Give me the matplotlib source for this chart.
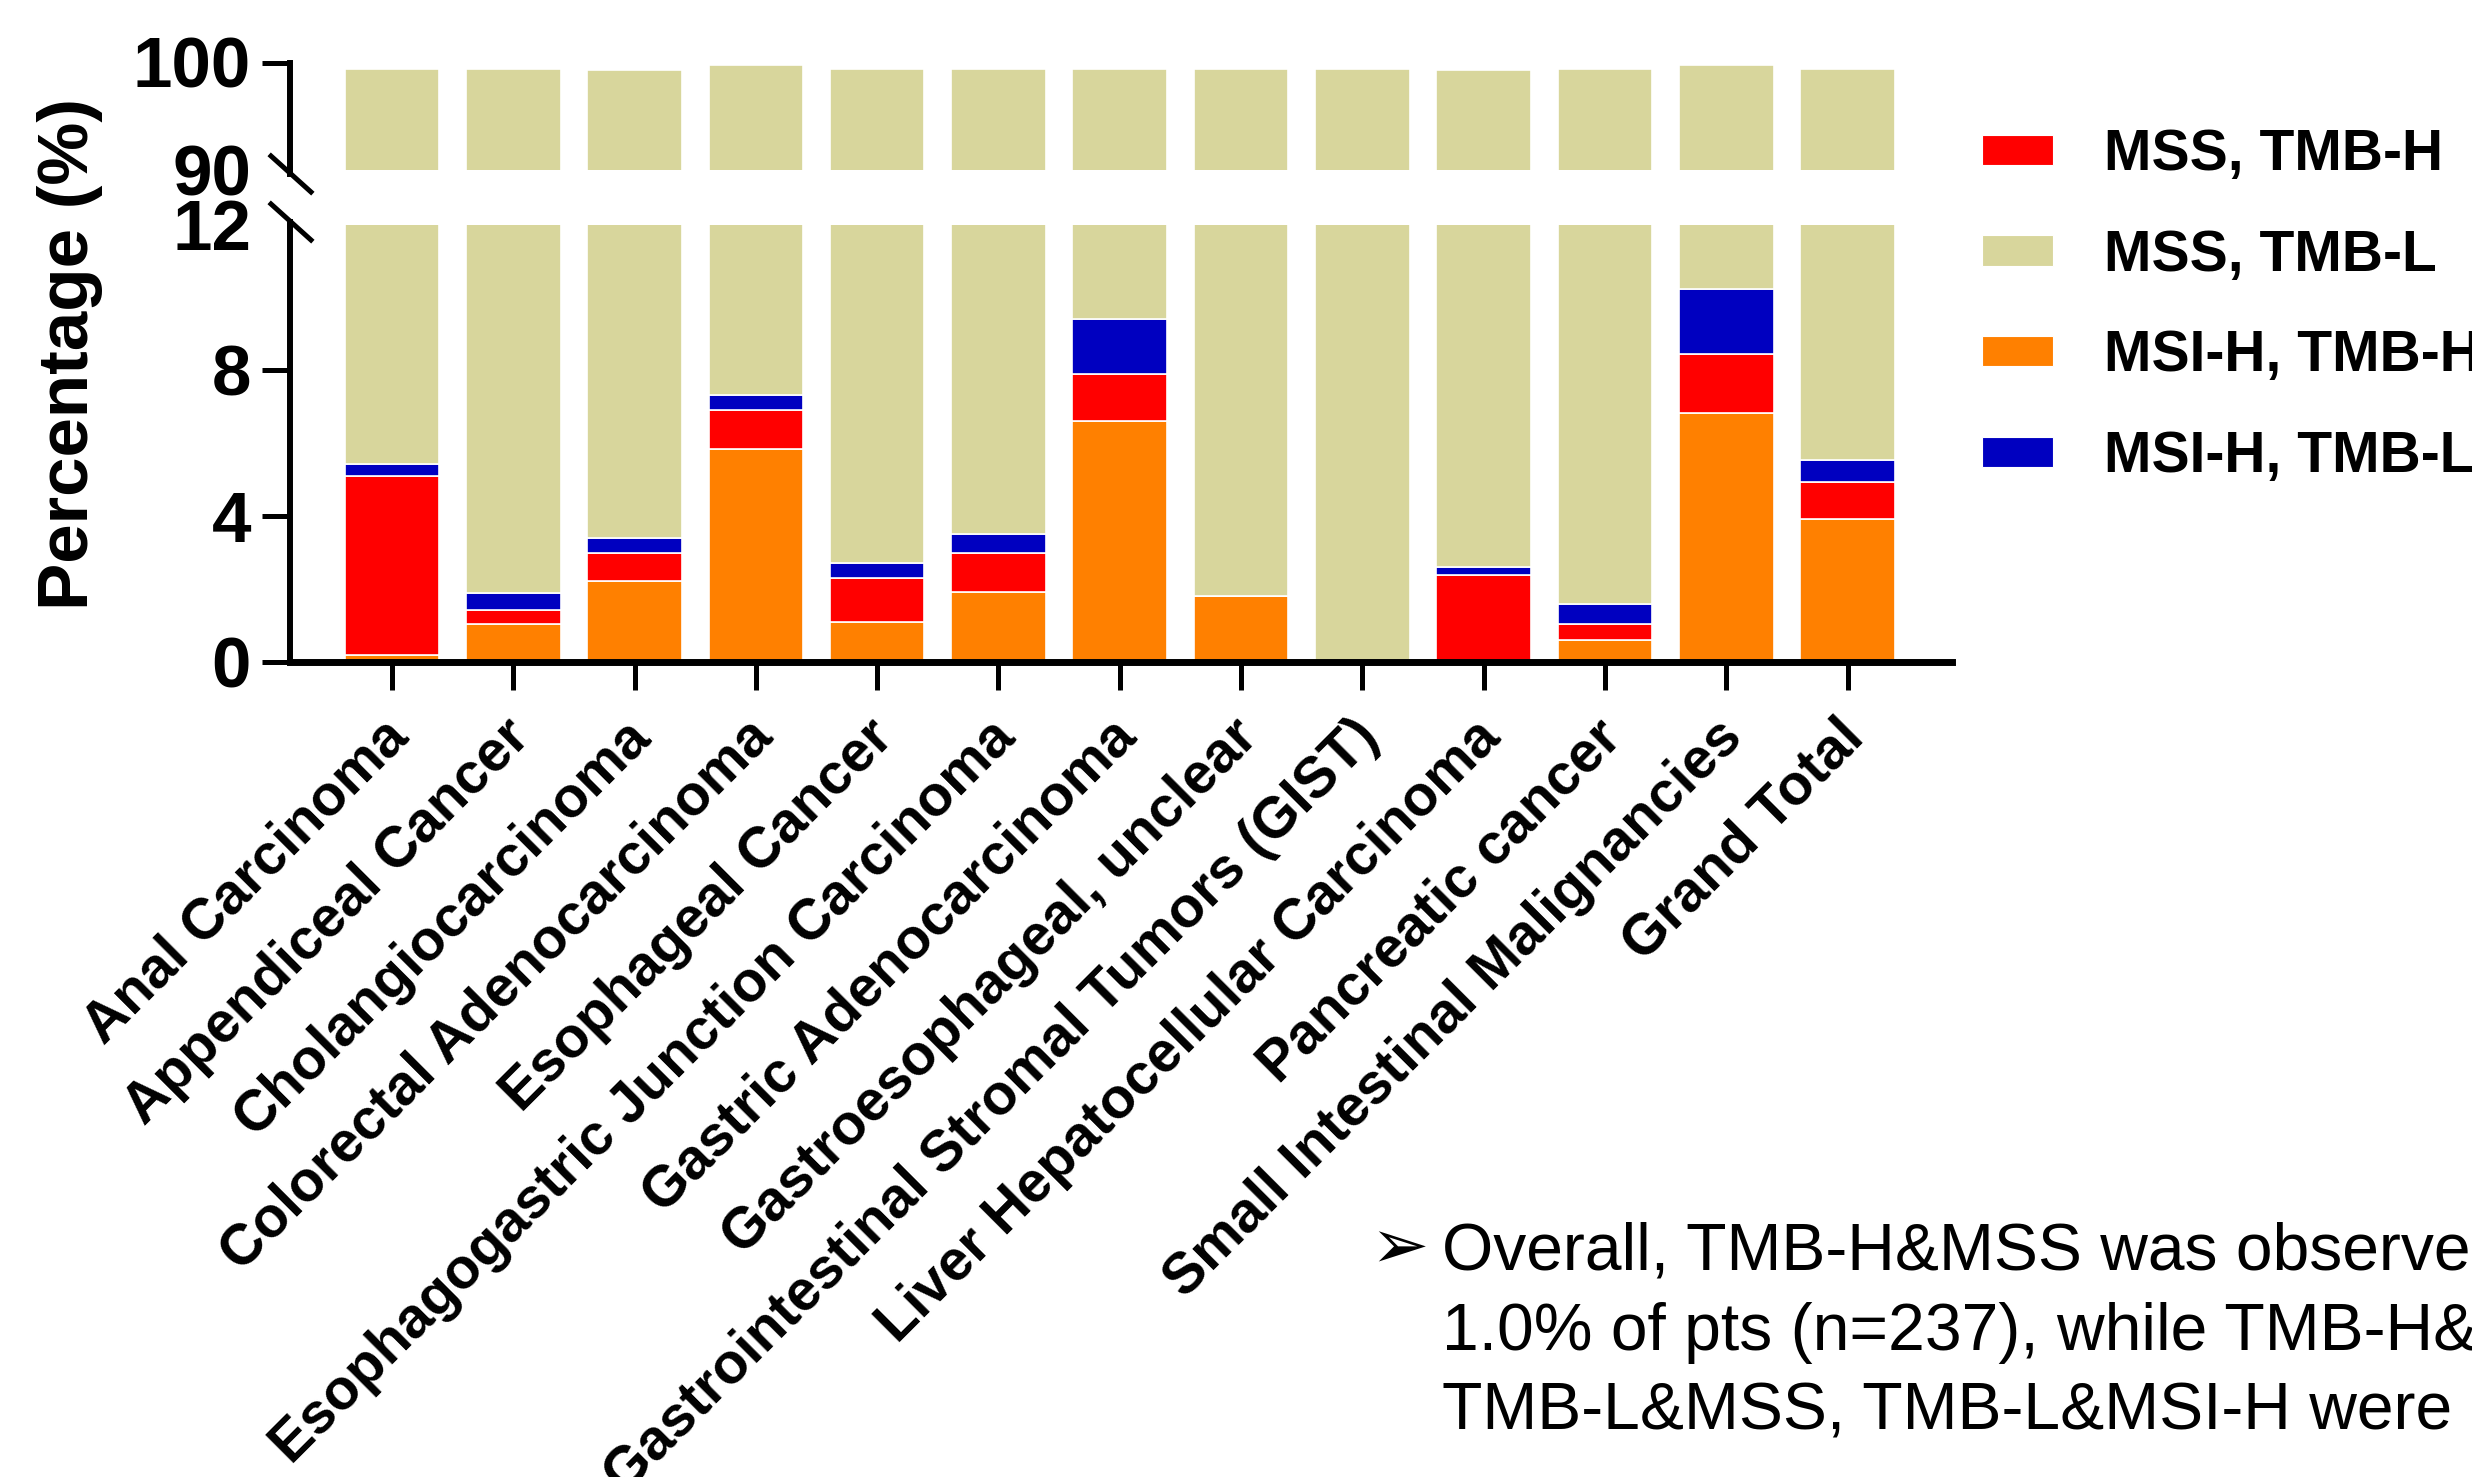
import matplotlib
matplotlib.use("Agg")
import matplotlib.pyplot as plt
import matplotlib.transforms as mtransforms
from matplotlib.patches import Patch
from matplotlib.lines import Line2D

plt.rcParams['font.family'] = ['Liberation Sans', 'DejaVu Sans']

# data (percent of patients per tumour type)
categories = ["Anal Carcinoma", "Appendiceal Cancer", "Cholangiocarcinoma",
              "Colorectal Adenocarcinoma", "Esophageal Cancer",
              "Esophagogastric Junction Carcinoma", "Gastric Adenocarcinoma",
              "Gastroesophageal, unclear", "Gastrointestinal Stromal Tumors (GIST)",
              "Liver Hepatocellular Carcinoma", "Pancreatic cancer",
              "Small Intestinal Malignancies", "Grand Total"]
msi_h_tmb_h = [0.2, 1.03, 2.23, 5.83, 1.1, 1.91, 6.61, 1.8, 0.0, 0.0, 0.61, 6.83, 3.91]
mss_tmb_h = [4.9, 0.4, 0.75, 1.09, 1.21, 1.07, 1.3, 0.0, 0.0, 2.4, 0.42, 1.61, 1.02]
msi_h_tmb_l = [0.32, 0.47, 0.43, 0.41, 0.41, 0.54, 1.51, 0.0, 0.0, 0.21, 0.56, 1.79, 0.6]
mss_tmb_l = [93.98, 97.5, 95.89, 92.47, 96.68, 95.88, 89.98, 97.6, 99.4, 96.69, 97.81, 89.57, 93.87]

series = [("MSI-H, TMB-H", msi_h_tmb_h, "#FF8000"),
          ("MSS, TMB-H", mss_tmb_h, "#FF0000"),
          ("MSI-H, TMB-L", msi_h_tmb_l, "#0000C0"),
          ("MSS, TMB-L", mss_tmb_l, "#D8D69C")]

W, H = 2472, 1477
fig = plt.figure(figsize=(W / 100, H / 100), dpi=100)


def px_axes(left, top, right, bottom):
    return fig.add_axes([left / W, 1 - bottom / H, (right - left) / W, (bottom - top) / H])


ax_lo = px_axes(290, 224.5, 1952, 662)
ax_hi = px_axes(290, 62.5, 1952, 169.6)

x = list(range(len(categories)))
for ax in (ax_lo, ax_hi):
    bottom = [0.0] * len(categories)
    for name, vals, col in series:
        ax.bar(x, vals, width=0.78, bottom=bottom, color=col,
               edgecolor="white", linewidth=1.2)
        bottom = [b + v for b, v in zip(bottom, vals)]
    ax.set_xlim(-0.84, 12.86)
    for s in ("top", "right"):
        ax.spines[s].set_visible(False)
    ax.spines["left"].set_linewidth(4.3)
    ax.tick_params(axis="y", length=20, width=3.6, pad=8, labelsize=51)

ax_lo.set_ylim(0, 12)
ax_lo.set_yticks([0, 4, 8, 12])
ax_lo.set_yticklabels(["0", "4", "8", "12"], fontweight="bold", fontsize=51)
ax_lo.yaxis.get_major_ticks()[-1].tick1line.set_visible(False)
ax_lo.spines["bottom"].set_linewidth(5)
ax_lo.set_xticks(x)
ax_lo.set_xticklabels(categories, rotation=45, ha="right", va="center",
                      rotation_mode="anchor", fontsize=41, fontweight="bold")
ax_lo.tick_params(axis="x", length=20, width=3.6, pad=28)
off = mtransforms.ScaledTranslation(0.08, 0, fig.dpi_scale_trans)
for lbl in ax_lo.get_xticklabels():
    lbl.set_transform(lbl.get_transform() + off)

ax_hi.set_ylim(90, 100)
ax_hi.set_yticks([90, 100])
ax_hi.set_yticklabels(["90", "100"], fontweight="bold", fontsize=51)
ax_hi.yaxis.get_major_ticks()[0].tick1line.set_visible(False)
ax_hi.spines["bottom"].set_visible(False)
ax_hi.set_xticks([])

# axis break marks
for cy in (174, 222):
    fig.add_artist(Line2D([271 / W, 311 / W], [1 - (cy - 18) / H, 1 - (cy + 18) / H],
                          color="black", linewidth=3.6))
fig.add_artist(Line2D([290 / W, 290 / W], [1 - 169 / H, 1 - 174 / H],
                      color="black", linewidth=4.3))
fig.add_artist(Line2D([290 / W, 290 / W], [1 - 222 / H, 1 - 226 / H],
                      color="black", linewidth=4.3))

fig.text(70 / W, 1 - 354 / H, "Percentage (%)", rotation=90, ha="center", va="center",
         fontsize=51, fontweight="bold")

# legend
order = ["MSS, TMB-H", "MSS, TMB-L", "MSI-H, TMB-H", "MSI-H, TMB-L"]
colors = {name: col for name, _, col in series}
handles = [Patch(facecolor=colors[n], edgecolor="white", linewidth=0.8, label=n) for n in order]
fig.legend(handles=handles, loc="upper left", bbox_to_anchor=(1982 / W, 1 - 128 / H),
           frameon=False, borderpad=0, borderaxespad=0,
           prop={"weight": "bold", "size": 41}, handlelength=1.25, handleheight=0.44,
           handletextpad=0.9, labelspacing=0.82)

# note text at bottom right
fig.text(1370 / W, 1 - 1268 / H, "\u27a2", fontsize=50, va="baseline", ha="left")
note = ["Overall, TMB-H&MSS was observed in",
        "1.0% of pts (n=237), while TMB-H&MSI-H,",
        "TMB-L&MSS, TMB-L&MSI-H were"]
for i, line in enumerate(note):
    fig.text(1442 / W, 1 - (1270 + 80 * i) / H, line, fontsize=47.5, va="baseline", ha="left")

fig.savefig("out.png", dpi=100)
